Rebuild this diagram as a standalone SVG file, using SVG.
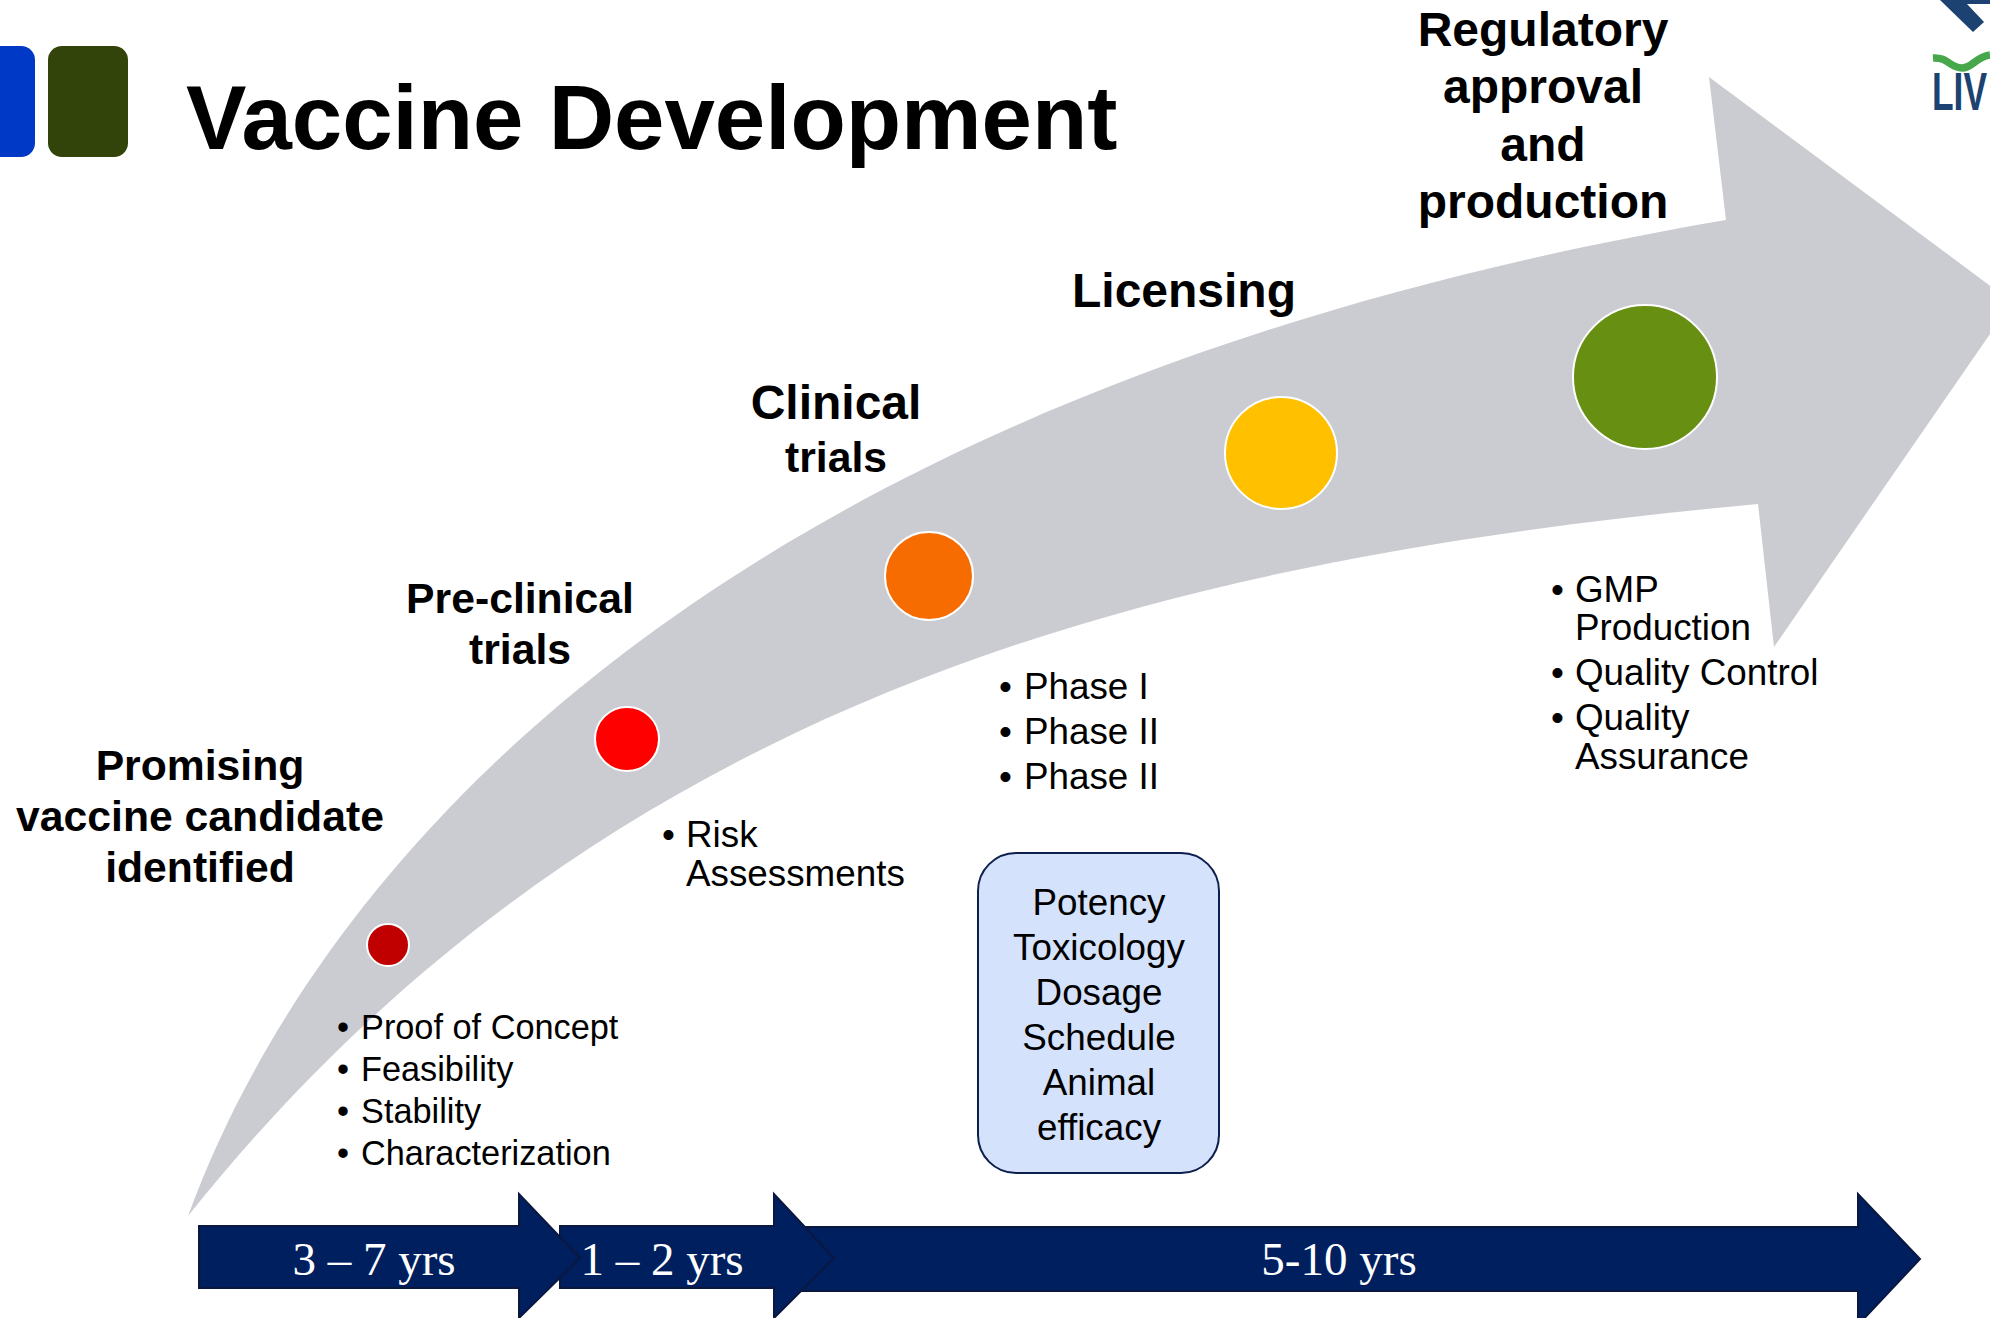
<svg xmlns="http://www.w3.org/2000/svg" width="1990" height="1318" viewBox="0 0 1990 1318">
<style>
text{font-family:"Liberation Sans",Arial,sans-serif;fill:#000}
.h{font-weight:bold;font-size:48px;text-anchor:middle}
.h2{font-size:42.7px}
.b{font-size:36.8px}
.s{font-size:34.3px}
.c{font-size:36.8px;text-anchor:middle}
.y{font-family:"Liberation Serif","Times New Roman",serif;font-size:47px;fill:#fff;text-anchor:middle}
.n{stroke:#fff;stroke-width:2}
.a{fill:#001f5f;stroke:#0a1840;stroke-width:2}
</style>
<rect width="1990" height="1318" fill="#fff"/>
<g id="header">
<rect x="-30" y="46" width="65" height="111" rx="14" fill="#0039c6"/>
<rect x="48" y="46" width="80" height="111" rx="14" fill="#324409"/>
<text x="186" y="149" font-size="90.6" font-weight="bold">Vaccine Development</text>
</g>
<g id="logo">
<path d="M1940 0H1990V4H1967L1984 22L1973 32Z" fill="#1b4270"/>
<path d="M1933 58C1948 57 1950 68 1962 68C1973 68 1975 57 1990 55" fill="none" stroke="#46a84b" stroke-width="7.5"/>
<text x="1932" y="110" font-size="54" font-weight="bold" style="fill:#1b4270" textLength="55" lengthAdjust="spacingAndGlyphs">LIV</text>
</g>
<g id="connectors">
<path id="curved-arrow" d="M188 1216C330 830 760 385 1726 220L1709 77L2012 302L1774 647L1758 504C1150 560 600 700 188 1216Z" fill="#cbccd1"/>
<path class="a" d="M800 1227H1858V1194L1920 1259L1858 1325V1291H800Z"/>
<path class="a" d="M560 1226H774V1194L834 1258L774 1318V1288H560Z"/>
<path class="a" d="M199 1226H519V1194L580 1258L519 1318V1288H199Z"/>
</g>
<g id="node-candidate"><circle class="n" cx="388" cy="945" r="21" fill="#c00000"/>
<text class="h h2" style="font-size:42.7px"><tspan x="200" y="780">Promising</tspan><tspan x="200" y="831">vaccine candidate</tspan><tspan x="200" y="882">identified</tspan></text>
<text class="s"><tspan x="337" y="1039">•</tspan><tspan x="361" y="1039">Proof of Concept</tspan><tspan x="337" y="1081">•</tspan><tspan x="361" y="1081">Feasibility</tspan><tspan x="337" y="1123">•</tspan><tspan x="361" y="1123">Stability</tspan><tspan x="337" y="1165">•</tspan><tspan x="361" y="1165">Characterization</tspan></text></g>
<g id="node-preclinical"><circle class="n" cx="627" cy="739" r="32" fill="#fe0000"/>
<text class="h h2" style="font-size:42.7px"><tspan x="520" y="613">Pre-clinical</tspan><tspan x="520" y="664">trials</tspan></text>
<text class="b"><tspan x="662" y="847">•</tspan><tspan x="686" y="847">Risk</tspan><tspan x="686" y="886">Assessments</tspan></text></g>
<g id="node-clinical"><circle class="n" cx="929" cy="576" r="44" fill="#f76c00"/>
<text class="h"><tspan x="836" y="419">Clinical</tspan><tspan x="836" y="472" style="font-size:42.7px">trials</tspan></text>
<text class="b"><tspan x="999" y="699">•</tspan><tspan x="1024" y="699">Phase I</tspan><tspan x="999" y="744">•</tspan><tspan x="1024" y="744">Phase II</tspan><tspan x="999" y="789">•</tspan><tspan x="1024" y="789">Phase II</tspan></text></g>
<g id="node-tests"><rect x="978" y="853" width="241" height="320" rx="38" fill="#d5e2fb" stroke="#0d1f4d" stroke-width="2"/>
<text class="c"><tspan x="1099" y="915">Potency</tspan><tspan x="1099" y="960">Toxicology</tspan><tspan x="1099" y="1005">Dosage</tspan><tspan x="1099" y="1050">Schedule</tspan><tspan x="1099" y="1095">Animal</tspan><tspan x="1099" y="1140">efficacy</tspan></text></g>
<g id="node-licensing"><circle class="n" cx="1281" cy="453" r="56" fill="#ffc000"/>
<text class="h" x="1184" y="307">Licensing</text></g>
<g id="node-regulatory"><circle class="n" cx="1645" cy="377" r="72" fill="#679013"/>
<text class="h"><tspan x="1543" y="46">Regulatory</tspan><tspan x="1543" y="103">approval</tspan><tspan x="1543" y="161">and</tspan><tspan x="1543" y="218">production</tspan></text>
<text class="b"><tspan x="1551" y="602">•</tspan><tspan x="1575" y="602">GMP</tspan><tspan x="1575" y="640">Production</tspan><tspan x="1551" y="685">•</tspan><tspan x="1575" y="685">Quality Control</tspan><tspan x="1551" y="730">•</tspan><tspan x="1575" y="730">Quality</tspan><tspan x="1575" y="769">Assurance</tspan></text></g>
<g id="timeline-labels">
<text class="y" x="374" y="1275">3 – 7 yrs</text>
<text class="y" x="662" y="1275">1 – 2 yrs</text>
<text class="y" x="1339" y="1275">5-10 yrs</text>
</g>
</svg>
